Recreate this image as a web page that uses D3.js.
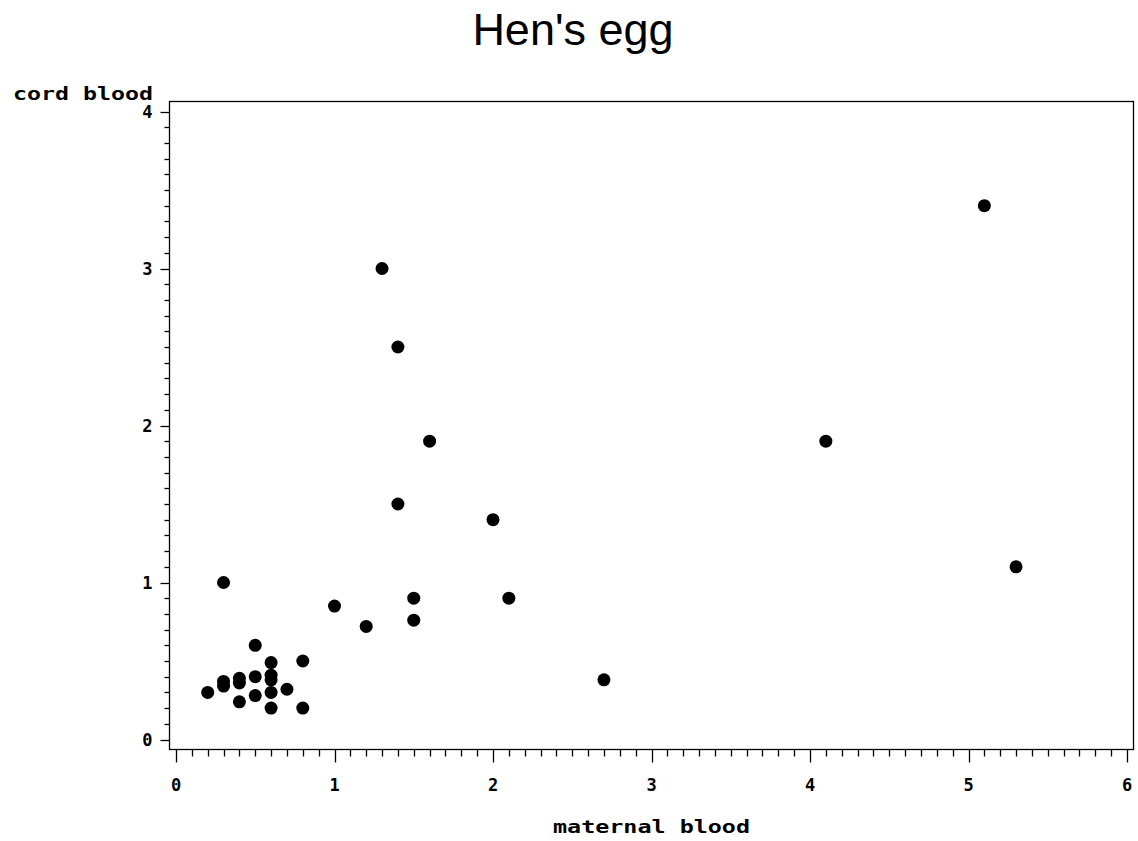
<!DOCTYPE html>
<html>
<head>
<meta charset="utf-8">
<script src="https://cdn.jsdelivr.net/npm/d3@7"></script>
<style>
  html, body { margin: 0; padding: 0; background: #fff; }
  svg { display: block; }
  .mono { font-family: "DejaVu Sans Mono", monospace; font-weight: bold; fill: #000; }
</style>
</head>
<body>
<svg id="chart" width="1138" height="841"></svg>
<script>
// Maternal vs cord blood antibody levels (hen's egg)
const maternal = [5.1, 1.3, 1.4, 1.6, 4.1, 1.4, 2.0, 5.3, 0.3, 1.0, 1.5, 2.1, 1.2, 1.5, 2.7,
                  0.5, 0.6, 0.8, 0.6, 0.6, 0.5, 0.4, 0.4, 0.3, 0.3, 0.2, 0.7, 0.5, 0.6, 0.4, 0.6, 0.8];
const cord     = [3.4, 3.0, 2.5, 1.9, 1.9, 1.5, 1.4, 1.1, 1.0, 0.85, 0.9, 0.9, 0.72, 0.76, 0.38,
                  0.6, 0.49, 0.5, 0.41, 0.38, 0.4, 0.39, 0.36, 0.37, 0.34, 0.3, 0.32, 0.28, 0.3, 0.24, 0.2, 0.2];
const xTicks = [0, 1, 2, 3, 4, 5, 6];
const yTicks = [0, 1, 2, 3, 4];

const title = "Hen's egg";
const xLabel = "maternal blood";
const yLabel = "cord blood";

const svg = d3.select("#chart");

const frame = { left: 169, top: 101, right: 1133, bottom: 749 };

const x = d3.scaleLinear().domain([0, 6]).range([176, 1127]);
const y = d3.scaleLinear().domain([0, 4]).range([739.5, 111.5]);

// Title
svg.append("text")
  .attr("x", 573).attr("y", 45)
  .attr("text-anchor", "middle")
  .style("font-family", "'Liberation Sans', Arial, sans-serif")
  .style("font-size", "45px")
  .text(title);

// Plot frame
svg.append("rect")
  .attr("x", frame.left + 0.5).attr("y", frame.top + 0.5)
  .attr("width", frame.right - frame.left).attr("height", frame.bottom - frame.top)
  .attr("fill", "none").attr("stroke", "#000").attr("stroke-width", 1.3);

// X axis: major and minor ticks hanging below the frame
const xMinor = d3.range(0, 60.5, 1).map(d => d / 10);
const xAxisG = svg.append("g").attr("transform", `translate(0,${frame.bottom + 0.5})`);
xAxisG.selectAll("line.minor").data(xMinor).join("line")
  .attr("x1", d => Math.round(x(d)) + 0.5).attr("x2", d => Math.round(x(d)) + 0.5)
  .attr("y1", 0).attr("y2", d => (Math.abs(d - Math.round(d)) < 1e-9 ? 13 : 7))
  .attr("stroke", "#000").attr("stroke-width", 1.3);
xAxisG.selectAll("text").data(xTicks).join("text")
  .attr("class", "mono")
  .attr("x", d => x(d)).attr("y", 41)
  .attr("text-anchor", "middle")
  .style("font-size", "17px")
  .text(d => d);

// Y axis: ticks pointing left of the frame
const yMinor = d3.range(0, 40.5, 1).map(d => d / 10);
const yAxisG = svg.append("g").attr("transform", `translate(${frame.left + 0.5},0)`);
yAxisG.selectAll("line.minor").data(yMinor).join("line")
  .attr("y1", d => Math.round(y(d)) + 0.5).attr("y2", d => Math.round(y(d)) + 0.5)
  .attr("x1", 0).attr("x2", d => (Math.abs(d - Math.round(d)) < 1e-9 ? -9 : -5))
  .attr("stroke", "#000").attr("stroke-width", 1.3);
yAxisG.selectAll("text").data(yTicks).join("text")
  .attr("class", "mono")
  .attr("x", -17).attr("y", d => y(d) + 6)
  .attr("text-anchor", "end")
  .style("font-size", "17px")
  .text(d => d);

// Axis titles
svg.append("text")
  .attr("class", "mono")
  .attr("x", 13).attr("y", 100)
  .attr("textLength", 140).attr("lengthAdjust", "spacingAndGlyphs")
  .style("font-size", "17px")
  .text(yLabel);

svg.append("text")
  .attr("class", "mono")
  .attr("x", 553).attr("y", 833)
  .attr("textLength", 197).attr("lengthAdjust", "spacingAndGlyphs")
  .style("font-size", "17px")
  .text(xLabel);

// Data points
svg.append("g").selectAll("circle").data(maternal.map((m, i) => [m, cord[i]])).join("circle")
  .attr("cx", d => x(d[0])).attr("cy", d => y(d[1]))
  .attr("r", 6.5)
  .attr("fill", "#000");
</script>
</body>
</html>
